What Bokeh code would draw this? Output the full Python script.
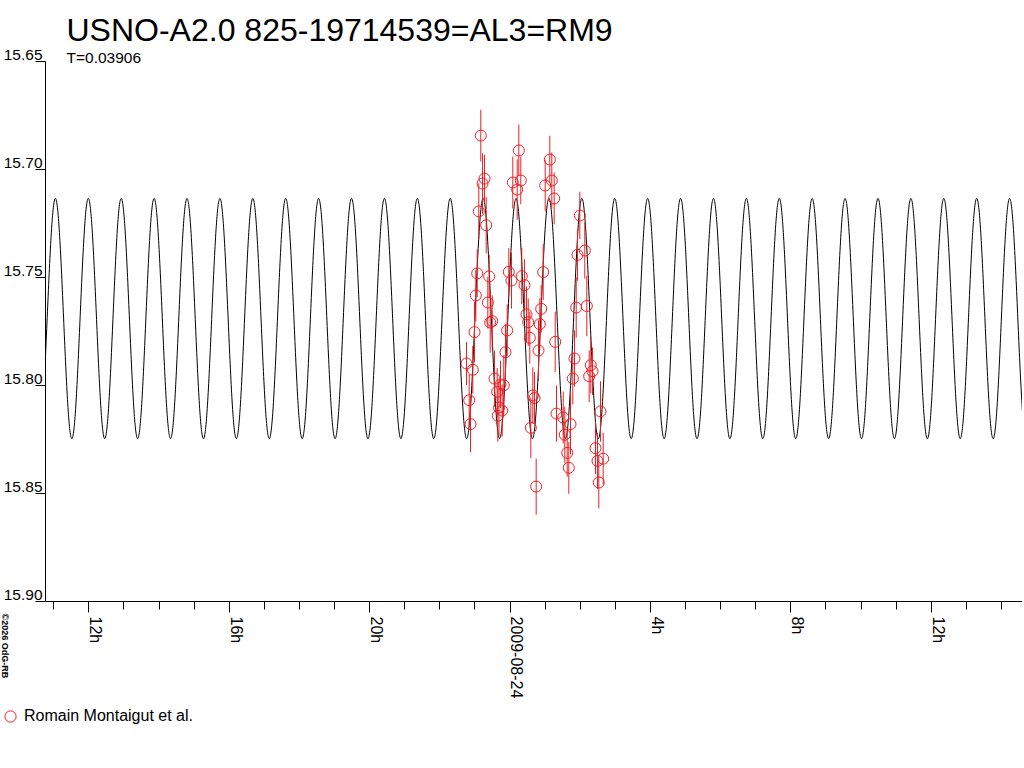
import numpy as np
from math import pi
from bokeh.plotting import figure
from bokeh.models import (Range1d, FixedTicker, Label, Legend, LegendItem, ColumnDataSource,
                          LinearAxis, CustomLabelingPolicy)
from bokeh.embed import file_html
from bokeh.resources import INLINE

title_text = "USNO-A2.0 825-19714539=AL3=RM9"
subtitle_text = "T=0.03906"
series_name = "Romain Montaigut et al."
credit_text = "\u00a92026 OdG-RB"

# observation times: hours relative to 2009-08-24 00:00 UT
obs_hours = [-1.239, -1.162, -1.125, -1.060, -1.011, -0.974, -0.934, -0.889, -0.832, -0.783,
             -0.726, -0.678, -0.632, -0.593, -0.564, -0.507, -0.442, -0.365, -0.348, -0.313,
             -0.271, -0.222, -0.177, -0.128, -0.080, -0.034, 0.043, 0.080, 0.205, 0.251,
             0.308, 0.336, 0.413, 0.470, 0.519, 0.564, 0.593, 0.650, 0.698, 0.746,
             0.812, 0.849, 0.889, 0.946, 1.003, 1.134, 1.191, 1.259, 1.288, 1.325,
             1.516, 1.561, 1.630, 1.675, 1.724, 1.789, 1.838, 1.886, 1.923, 1.989,
             2.131, 2.188, 2.256, 2.302, 2.350, 2.436, 2.493, 2.530, 2.578, 2.655]
obs_mag = [15.7898, 15.8068, 15.8179, 15.7927, 15.7753, 15.7583, 15.7481, 15.7194, 15.6843, 15.7065,
           15.7042, 15.7258, 15.7616, 15.7495, 15.7708, 15.7702, 15.7968, 15.8029, 15.8140, 15.8102,
           15.7995, 15.8116, 15.7999, 15.7846, 15.7745, 15.7474, 15.7514, 15.7060, 15.7093, 15.6912,
           15.7051, 15.7494, 15.7536, 15.7671, 15.7707, 15.7779, 15.8196, 15.8046, 15.8058, 15.8468,
           15.7838, 15.7716, 15.7645, 15.7475, 15.7074, 15.6954, 15.7051, 15.7134, 15.7798, 15.8130,
           15.8148, 15.8228, 15.8312, 15.8381, 15.8179, 15.7968, 15.7875, 15.7639, 15.7395, 15.7213,
           15.7375, 15.7632, 15.7957, 15.7906, 15.7934, 15.8290, 15.8349, 15.8449, 15.8120, 15.8339]
obs_err = [0.010, 0.012, 0.013, 0.011, 0.014, 0.012, 0.011, 0.013, 0.012, 0.014,
           0.011, 0.013, 0.012, 0.010, 0.014, 0.012, 0.013, 0.011, 0.012, 0.013,
           0.011, 0.012, 0.014, 0.013, 0.012, 0.011, 0.013, 0.012, 0.014, 0.012,
           0.011, 0.013, 0.012, 0.013, 0.011, 0.012, 0.014, 0.013, 0.012, 0.013,
           0.014, 0.012, 0.011, 0.013, 0.012, 0.011, 0.013, 0.012, 0.014, 0.013,
           0.012, 0.013, 0.011, 0.012, 0.014, 0.012, 0.013, 0.014, 0.012, 0.011,
           0.013, 0.014, 0.012, 0.013, 0.011, 0.012, 0.013, 0.012, 0.014, 0.012]

# sinusoidal model (period T in days)
period_days = 0.03906
model_mean = 15.769
model_semi_amp = 0.0556
model_peak_hour = -12.952

x_tick_hours = [-12, -8, -4, 0, 4, 8, 12]
x_tick_labels = ["12h", "16h", "20h", "2009-08-24", "4h", "8h", "12h"]
x_minor_hours = list(range(-13, 15))
y_ticks = [15.65, 15.70, 15.75, 15.80, 15.85, 15.90]
y_tick_labels = ["15.65", "15.70", "15.75", "15.80", "15.85", "15.90"]

# layout (pixels)
W, H = 1022, 766
AX_LEFT_PX, AX_TOP_PX = 45, 61
PX_PER_HOUR = 35.1
PX_MIDNIGHT = 509.5
PX_PER_MAG = 2160.0

AX_X0 = (AX_LEFT_PX - PX_MIDNIGHT) / PX_PER_HOUR          # time at the y axis
VIEW_X0 = -PX_MIDNIGHT / PX_PER_HOUR
VIEW_X1 = (W - PX_MIDNIGHT) / PX_PER_HOUR
Y_TOP, Y_BOTTOM = 15.65, 15.90
VIEW_Y_TOP = Y_TOP - AX_TOP_PX / PX_PER_MAG
VIEW_Y_BOTTOM = Y_TOP + (H - AX_TOP_PX) / PX_PER_MAG

FONT = "Liberation Sans"
RED = "#f01e23"

p = figure(width=W, height=H, output_backend="svg", toolbar_location=None,
           x_range=Range1d(VIEW_X0, VIEW_X1), y_range=Range1d(VIEW_Y_BOTTOM, VIEW_Y_TOP),
           x_axis_type=None, y_axis_type=None,
           min_border=0, min_border_left=0, min_border_right=0,
           min_border_top=0, min_border_bottom=0)
p.title.visible = False
p.outline_line_color = None
p.grid.visible = False

# model curve
t_model = np.linspace(AX_X0, VIEW_X1, 4000)
m_model = model_mean - model_semi_amp * np.cos(2 * np.pi * (t_model - model_peak_hour) / (period_days * 24.0))
p.line(t_model, m_model, line_color="black", line_width=1)

# observations
src = ColumnDataSource(dict(
    x=obs_hours, y=obs_mag,
    lo=[m - e for m, e in zip(obs_mag, obs_err)],
    hi=[m + e for m, e in zip(obs_mag, obs_err)],
))
p.segment(x0="x", y0="lo", x1="x", y1="hi", source=src, line_color=RED, line_width=1)
circ = p.scatter("x", "y", source=src, marker="circle", size=11, fill_color=None,
                 line_color=RED, line_width=1)

no_labels = CustomLabelingPolicy(code="""
try { return new indices.constructor(indices.size, 0) } catch (e) { return indices }
""")

# axes (lines and tick marks); tick texts are placed as labels below
xa = LinearAxis(fixed_location=Y_BOTTOM, bounds=(AX_X0, VIEW_X1),
                ticker=FixedTicker(ticks=x_tick_hours, minor_ticks=x_minor_hours),
                major_label_policy=no_labels, major_label_text_font_size="1px",
                axis_line_color="black", major_tick_line_color="black",
                minor_tick_line_color="black", major_tick_in=0, major_tick_out=11,
                minor_tick_in=0, minor_tick_out=8)
p.add_layout(xa, "below")
ya = LinearAxis(fixed_location=AX_X0, bounds=(Y_TOP, Y_BOTTOM),
                ticker=FixedTicker(ticks=y_ticks, minor_ticks=[]),
                major_label_policy=no_labels, major_label_text_font_size="1px",
                axis_line_color="black", major_tick_line_color="black",
                minor_tick_line_color=None, major_tick_in=0, major_tick_out=10,
                minor_tick_in=0, minor_tick_out=0)
p.add_layout(ya, "left")

# y tick labels (sitting on the tick lines)
for v, s in zip(y_ticks, y_tick_labels):
    p.add_layout(Label(x=AX_X0, y=v, x_offset=-3, y_offset=7, text=s,
                       text_align="right", text_baseline="middle",
                       text_font=FONT, text_font_size="15.5px", text_color="black"))

# x tick labels (rotated, reading downward, right of the tick)
for v, s in zip(x_tick_hours, x_tick_labels):
    p.add_layout(Label(x=v, y=Y_BOTTOM, x_offset=7, y_offset=-15, text=s, angle=-pi / 2,
                       text_align="left", text_baseline="middle",
                       text_font=FONT, text_font_size="16px", text_color="black"))

# title and subtitle
p.add_layout(Label(x=AX_X0, y=Y_TOP, x_offset=21, y_offset=32, text=title_text,
                   text_align="left", text_baseline="middle",
                   text_font=FONT, text_font_size="32px", text_color="black"))
p.add_layout(Label(x=AX_X0, y=Y_TOP, x_offset=21, y_offset=4, text=subtitle_text,
                   text_align="left", text_baseline="middle",
                   text_font=FONT, text_font_size="15.5px", text_color="black"))

# credit line
p.add_layout(Label(x=VIEW_X0, y=Y_BOTTOM, x_offset=4, y_offset=-12, text=credit_text,
                   angle=-pi / 2, text_align="left", text_baseline="middle",
                   text_font=FONT, text_font_size="9px", text_font_style="bold",
                   text_color="black"))

legend = Legend(items=[LegendItem(label=series_name, renderers=[circ])],
                location=(-4, H - 716 - 14), padding=0, margin=0, spacing=0,
                border_line_color=None, background_fill_alpha=0,
                glyph_width=28, glyph_height=28, label_height=20, label_standoff=0,
                label_text_font=FONT, label_text_font_size="16px", label_text_color="black")
p.add_layout(legend, "center")

open("out.html", "w").write(file_html(p, INLINE))
